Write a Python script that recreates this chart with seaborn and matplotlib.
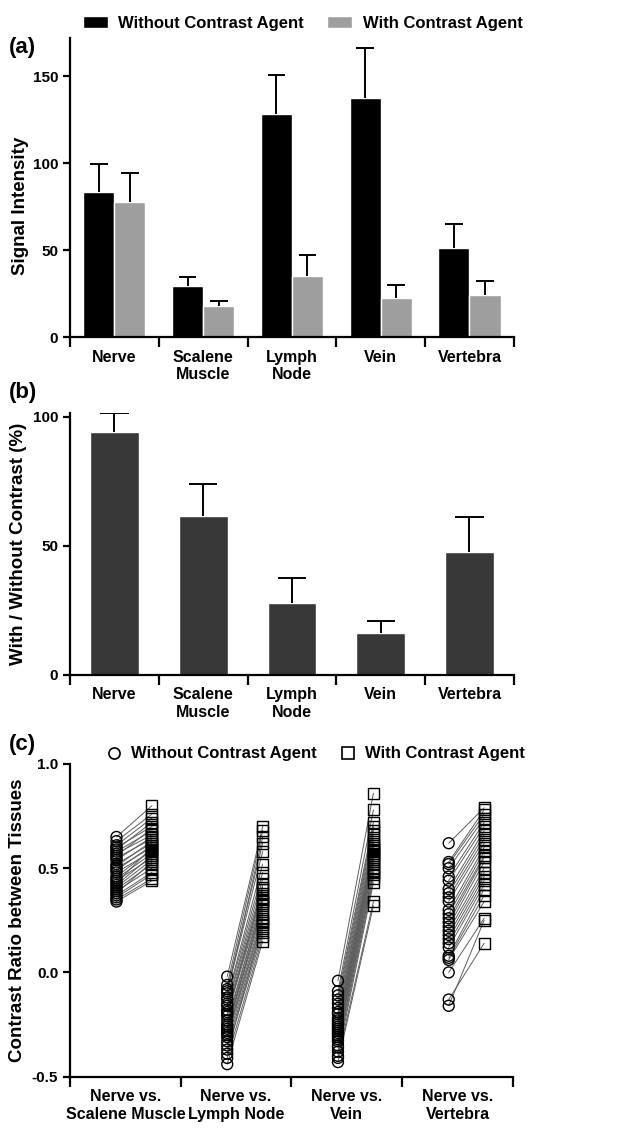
import numpy as np
import pandas as pd
import matplotlib
matplotlib.use("Agg")
import matplotlib.pyplot as plt
from matplotlib.lines import Line2D
from matplotlib.patches import Patch
from matplotlib.ticker import FixedLocator
import seaborn as sns

# ---- data ----
tissues = ["Nerve", "Scalene\nMuscle", "Lymph\nNode", "Vein", "Vertebra"]
conds = ["Without Contrast Agent", "With Contrast Agent"]

signal_without = [83.3, 29.3, 128.2, 137.7, 51.0]
signal_without_top = [99.4, 34.3, 150.6, 166.5, 65.3]
signal_with = [77.6, 17.8, 35.0, 22.2, 24.3]
signal_with_top = [94.4, 20.7, 47.1, 29.7, 32.0]

ratio = [94.1, 61.6, 27.8, 16.4, 47.8]
ratio_top = [101.3, 73.9, 37.5, 21.1, 61.1]

pairs = ["Nerve vs.\nScalene Muscle", "Nerve vs.\nLymph Node", "Nerve vs.\nVein", "Nerve vs.\nVertebra"]

scalene_wo = [0.65, 0.63, 0.61, 0.60, 0.59, 0.58, 0.57, 0.56, 0.55, 0.54, 0.52, 0.51, 0.50, 0.49,
              0.48, 0.46, 0.45, 0.44, 0.43, 0.42, 0.41, 0.40, 0.39, 0.38, 0.37, 0.36, 0.35, 0.34]
scalene_w = [0.80, 0.76, 0.74, 0.70, 0.72, 0.68, 0.66, 0.69, 0.64, 0.65, 0.62, 0.63, 0.60, 0.61,
             0.58, 0.59, 0.57, 0.55, 0.60, 0.56, 0.54, 0.52, 0.50, 0.53, 0.48, 0.47, 0.45, 0.44]

lymph_wo = [-0.02, -0.06, -0.08, -0.09, -0.10, -0.12, -0.13, -0.15, -0.16, -0.18, -0.19, -0.20, -0.21,
            -0.23, -0.25, -0.26, -0.27, -0.28, -0.29, -0.30, -0.31, -0.33, -0.35, -0.37, -0.39, -0.41, -0.44]
lymph_w = [0.70, 0.68, 0.62, 0.58, 0.65, 0.52, 0.48, 0.45, 0.42, 0.40, 0.38, 0.36, 0.41,
           0.34, 0.35, 0.32, 0.30, 0.33, 0.28, 0.26, 0.25, 0.23, 0.21, 0.19, 0.24, 0.17, 0.15]

vein_wo = [-0.04, -0.09, -0.11, -0.13, -0.15, -0.17, -0.19, -0.20, -0.22, -0.23, -0.24, -0.25, -0.26,
           -0.27, -0.28, -0.29, -0.30, -0.31, -0.32, -0.33, -0.35, -0.36, -0.38, -0.40, -0.41, -0.43]
vein_w = [0.86, 0.78, 0.72, 0.70, 0.68, 0.66, 0.64, 0.62, 0.60, 0.61, 0.58, 0.59, 0.57,
          0.56, 0.55, 0.54, 0.52, 0.53, 0.50, 0.49, 0.48, 0.47, 0.45, 0.43, 0.34, 0.32]

vertebra_wo = [0.62, 0.53, 0.52, 0.50, 0.46, 0.44, 0.40, 0.38, 0.36, 0.34, 0.30, 0.28, 0.26,
               0.24, 0.22, 0.20, 0.18, 0.16, 0.14, 0.12, 0.08, 0.07, 0.06, 0.00, -0.13, -0.16]
vertebra_w = [0.79, 0.78, 0.76, 0.74, 0.72, 0.70, 0.68, 0.66, 0.64, 0.62, 0.60, 0.58, 0.56,
              0.55, 0.53, 0.50, 0.48, 0.46, 0.44, 0.42, 0.40, 0.37, 0.34, 0.26, 0.14, 0.25]

paired = [(scalene_wo, scalene_w), (lymph_wo, lymph_w), (vein_wo, vein_w), (vertebra_wo, vertebra_w)]

# ---- style ----
sns.set_style("ticks")
plt.rcParams["font.family"] = ["Liberation Sans", "DejaVu Sans"]
plt.rcParams["font.weight"] = "bold"
plt.rcParams["axes.labelweight"] = "bold"
plt.rcParams["axes.unicode_minus"] = False
for k in ["text.color", "axes.labelcolor", "xtick.color", "ytick.color", "axes.edgecolor"]:
    plt.rcParams[k] = "black"

fig = plt.figure(figsize=(6.27, 11.28), dpi=100)
ax_a = fig.add_axes([0.1116, 0.7012, 0.708, 0.2651])
ax_b = fig.add_axes([0.1116, 0.4016, 0.708, 0.2323])
ax_c = fig.add_axes([0.1116, 0.0455, 0.7065, 0.2772])


def style_axes(ax, n):
    sns.despine(ax=ax)
    for s in ["left", "bottom"]:
        ax.spines[s].set_linewidth(1.6)
    ax.set_xlim(-0.5, n - 0.5)
    ax.xaxis.set_minor_locator(FixedLocator(np.arange(n + 1) - 0.5))
    ax.tick_params(axis="x", which="major", length=0, pad=9, labelsize=11.5)
    ax.tick_params(axis="x", which="minor", length=7, width=1.6)
    ax.tick_params(axis="y", length=5, width=1.6, labelsize=11)
    ax.set_xlabel("")


def upper_errors(ax, bars, tops, half):
    xs = [b.get_x() + b.get_width() / 2 for b in bars]
    ys = [b.get_height() for b in bars]
    ax.vlines(xs, ys, tops, color="black", lw=1.4, zorder=4)
    ax.hlines(tops, [x - half for x in xs], [x + half for x in xs], color="black", lw=1.4, zorder=4)


# ---- (a) signal intensity ----
df_a = pd.DataFrame({
    "tissue": tissues * 2,
    "value": signal_without + signal_with,
    "cond": [conds[0]] * 5 + [conds[1]] * 5,
})
sns.barplot(data=df_a, x="tissue", y="value", hue="cond", palette=["black", "#9e9e9e"],
            width=0.7, saturation=1, errorbar=None, legend=False, ax=ax_a)
upper_errors(ax_a, ax_a.containers[0], signal_without_top, 0.1)
upper_errors(ax_a, ax_a.containers[1], signal_with_top, 0.1)
ax_a.set_ylim(0, 172)
ax_a.set_yticks([0, 50, 100, 150])
ax_a.set_ylabel("Signal Intensity", fontsize=13.5)
style_axes(ax_a, 5)
ax_a.yaxis.set_label_coords(-0.093, 0.44)

fig.legend(handles=[Patch(fc="black"), Patch(fc="#9e9e9e")], labels=conds, ncol=2,
           loc="center", bbox_to_anchor=(0.483, 0.9796), frameon=False, fontsize=12,
           handlelength=1.5, handleheight=0.75, columnspacing=1.4, handletextpad=0.65)

# ---- (b) ratio ----
sns.barplot(x=tissues, y=ratio, color="#383838", width=0.55, saturation=1, errorbar=None, ax=ax_b)
upper_errors(ax_b, ax_b.containers[0], ratio_top, 0.16)
ax_b.set_ylim(0, 101.5)
ax_b.set_yticks([0, 50, 100])
ax_b.set_ylabel("With / Without Contrast (%)", fontsize=13.5)
style_axes(ax_b, 5)

# ---- (c) paired contrast ratios ----
rows = []
for i, (wo, w) in enumerate(paired):
    for a, b in zip(wo, w):
        rows.append({"x": i - 0.08, "value": a, "cond": conds[0], "pair": i})
        rows.append({"x": i + 0.24, "value": b, "cond": conds[1], "pair": i})
        ax_c.plot([i - 0.08, i + 0.24], [a, b], color="#5e5e5e", lw=0.7, zorder=2)
df_c = pd.DataFrame(rows)
sns.scatterplot(data=df_c, x="x", y="value", style="cond",
                markers={conds[0]: "o", conds[1]: "s"}, s=62, facecolor="none",
                edgecolor="black", linewidth=1.0, legend=False, zorder=3, ax=ax_c)
ax_c.set_xticks(range(4))
ax_c.set_xticklabels(pairs)
ax_c.set_ylim(-0.5, 1.0)
ax_c.set_yticks([-0.5, 0.0, 0.5, 1.0])
ax_c.set_yticklabels(["-0.5", "0.0", "0.5", "1.0"])
ax_c.set_ylabel("Contrast Ratio between Tissues", fontsize=13.5)
style_axes(ax_c, 4)

fig.legend(handles=[Line2D([], [], ls="none", marker="o", ms=8, mfc="none", mec="black", mew=1.2),
                    Line2D([], [], ls="none", marker="s", ms=8, mfc="none", mec="black", mew=1.2)],
           labels=conds, ncol=2, loc="center", bbox_to_anchor=(0.503, 0.3316), frameon=False,
           fontsize=12, handlelength=1.0, columnspacing=1.4, handletextpad=0.5)

# panel letters
fig.text(0.014, 0.967, "(a)", fontsize=16, va="top")
fig.text(0.014, 0.661, "(b)", fontsize=16, va="top")
fig.text(0.014, 0.349, "(c)", fontsize=16, va="top")

fig.savefig("out.png", dpi=100)
